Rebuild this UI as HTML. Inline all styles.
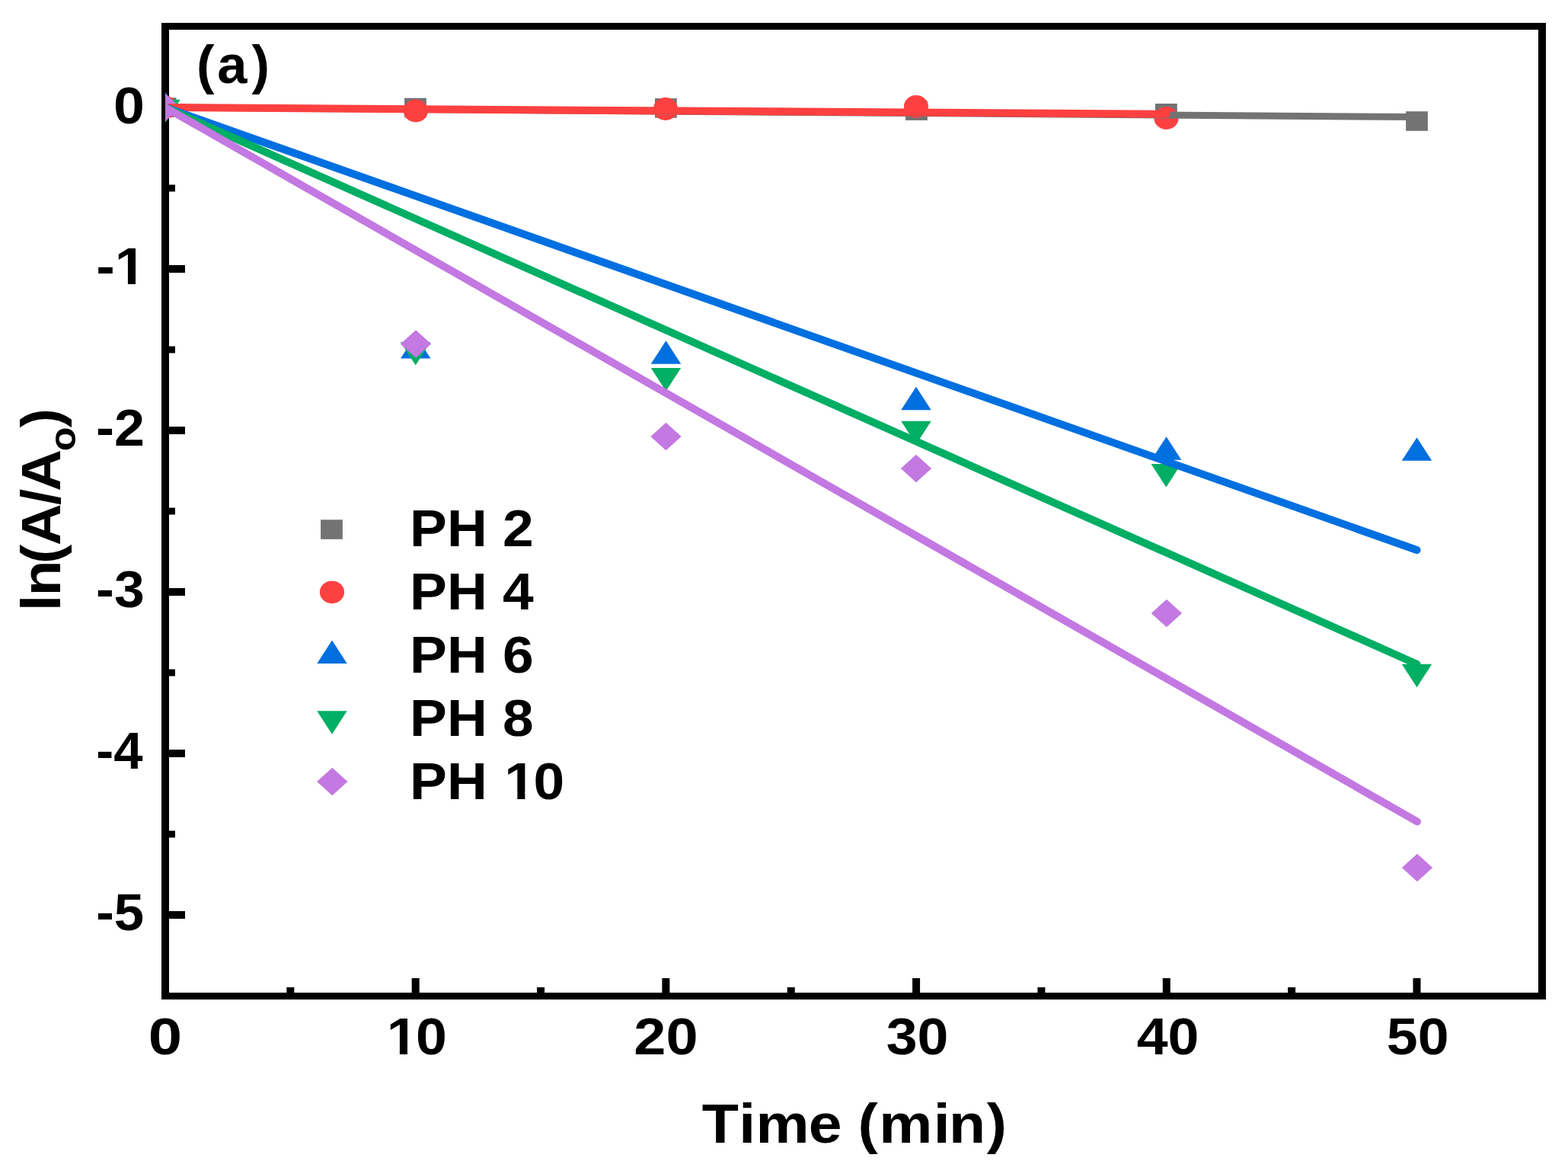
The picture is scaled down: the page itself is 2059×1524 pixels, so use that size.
<!DOCTYPE html>
<html><head><meta charset="utf-8"><title>ln(A/Ao) vs Time</title>
<style>
html,body{margin:0;padding:0;background:#fff;}
body{width:2059px;height:1524px;overflow:hidden;}
svg{display:block;}
</style></head><body>
<svg width="2059" height="1524" viewBox="0 0 2059 1524">
<defs><clipPath id="pc"><rect x="217" y="34.5" width="1808" height="1273"/></clipPath></defs>
<rect x="0" y="0" width="2059" height="1524" fill="#fff"/>

<g fill="#000">
<rect x="212" y="30" width="10" height="1282"/>
<rect x="2020" y="30" width="10" height="1282"/>
<rect x="212" y="30" width="1818" height="9"/>
<rect x="212" y="1303" width="1818" height="9"/>
<rect x="212.00" y="1284" width="10" height="20"/>
<rect x="376.35" y="1296" width="10" height="8"/>
<rect x="540.70" y="1284" width="10" height="20"/>
<rect x="705.05" y="1296" width="10" height="8"/>
<rect x="869.40" y="1284" width="10" height="20"/>
<rect x="1033.75" y="1296" width="10" height="8"/>
<rect x="1198.10" y="1284" width="10" height="20"/>
<rect x="1362.45" y="1296" width="10" height="8"/>
<rect x="1526.80" y="1284" width="10" height="20"/>
<rect x="1691.15" y="1296" width="10" height="8"/>
<rect x="1855.50" y="1284" width="10" height="20"/>
<rect x="221" y="136.00" width="22" height="10"/>
<rect x="221" y="242.50" width="9" height="9"/>
<rect x="221" y="348.00" width="22" height="10"/>
<rect x="221" y="454.50" width="9" height="9"/>
<rect x="221" y="560.00" width="22" height="10"/>
<rect x="221" y="666.50" width="9" height="9"/>
<rect x="221" y="772.00" width="22" height="10"/>
<rect x="221" y="878.50" width="9" height="9"/>
<rect x="221" y="984.00" width="22" height="10"/>
<rect x="221" y="1090.50" width="9" height="9"/>
<rect x="221" y="1196.00" width="22" height="10"/>
</g>
<g clip-path="url(#pc)">
<rect x="202.60" y="128.20" width="28.8" height="25.6" fill="#737373"/>
<rect x="531.10" y="128.70" width="28.8" height="25.6" fill="#737373"/>
<rect x="860.00" y="129.10" width="28.8" height="25.6" fill="#737373"/>
<rect x="1189.10" y="132.30" width="28.8" height="25.6" fill="#737373"/>
<rect x="1517.00" y="136.00" width="28.8" height="25.6" fill="#737373"/>
<rect x="1846.10" y="146.20" width="28.8" height="25.6" fill="#737373"/>
<ellipse cx="217.00" cy="141.00" rx="16.1" ry="14.9" fill="#FF4040"/>
<ellipse cx="545.90" cy="145.50" rx="16.1" ry="14.9" fill="#FF4040"/>
<ellipse cx="873.90" cy="143.00" rx="16.1" ry="14.9" fill="#FF4040"/>
<ellipse cx="1203.00" cy="140.00" rx="16.1" ry="14.9" fill="#FF4040"/>
<ellipse cx="1531.50" cy="155.00" rx="16.1" ry="14.9" fill="#FF4040"/>
<polygon points="217.00,120.67 236.75,151.17 197.25,151.17" fill="#006FE0"/>
<polygon points="545.70,440.07 565.45,470.57 525.95,470.57" fill="#006FE0"/>
<polygon points="874.50,447.37 894.25,477.87 854.75,477.87" fill="#006FE0"/>
<polygon points="1203.00,507.67 1222.75,538.17 1183.25,538.17" fill="#006FE0"/>
<polygon points="1531.60,573.17 1551.35,603.67 1511.85,603.67" fill="#006FE0"/>
<polygon points="1860.50,574.17 1880.25,604.67 1840.75,604.67" fill="#006FE0"/>
<polygon points="197.25,130.83 236.75,130.83 217.00,161.33" fill="#00AE64"/>
<polygon points="525.95,448.93 565.45,448.93 545.70,479.43" fill="#00AE64"/>
<polygon points="854.75,482.93 894.25,482.93 874.50,513.43" fill="#00AE64"/>
<polygon points="1183.25,552.83 1222.75,552.83 1203.00,583.33" fill="#00AE64"/>
<polygon points="1511.55,609.03 1551.05,609.03 1531.30,639.53" fill="#00AE64"/>
<polygon points="1840.75,871.63 1880.25,871.63 1860.50,902.13" fill="#00AE64"/>
<polygon points="217.00,122.75 237.15,141.00 217.00,159.25 196.85,141.00" fill="#C378E2"/>
<polygon points="546.00,433.25 566.15,451.50 546.00,469.75 525.85,451.50" fill="#C378E2"/>
<polygon points="874.50,554.65 894.65,572.90 874.50,591.15 854.35,572.90" fill="#C378E2"/>
<polygon points="1203.00,596.75 1223.15,615.00 1203.00,633.25 1182.85,615.00" fill="#C378E2"/>
<polygon points="1531.90,786.75 1552.05,805.00 1531.90,823.25 1511.75,805.00" fill="#C378E2"/>
<polygon points="1861.00,1120.65 1881.15,1138.90 1861.00,1157.15 1840.85,1138.90" fill="#C378E2"/>
<line x1="217" y1="141" x2="1860.5" y2="153.6" stroke="#737373" stroke-width="9" stroke-linecap="round"/>
<line x1="217" y1="141" x2="1531.5" y2="149.8" stroke="#FF4040" stroke-width="10" stroke-linecap="round"/>
<line x1="217" y1="141" x2="1860.5" y2="722" stroke="#006FE0" stroke-width="10" stroke-linecap="round"/>
<line x1="217" y1="141" x2="1860.5" y2="871.7" stroke="#00AE64" stroke-width="10" stroke-linecap="round"/>
<line x1="217" y1="141" x2="1861" y2="1078.5" stroke="#C378E2" stroke-width="10" stroke-linecap="round"/>
</g>
<g style="font-family:'Liberation Sans',Arial,sans-serif;font-weight:bold" fill="#000">
<text transform="translate(149.09,161.50) scale(1.0775,1)" font-size="68.3">0</text>
<text transform="translate(0,373.00) scale(1.0770,1)" x="117.21 139.96" font-size="68.3" clip-path="url(#fy1)">-1</text>
<text transform="translate(126.09,584.50) scale(1.0519,1)" font-size="68.3">-2</text>
<text transform="translate(126.11,796.50) scale(1.0469,1)" font-size="68.3">-3</text>
<text transform="translate(126.21,1008.50) scale(1.0088,1)" font-size="68.3">-4</text>
<text transform="translate(126.14,1220.50) scale(1.0363,1)" font-size="68.3">-5</text>
<text transform="translate(194.75,1384.30) scale(1.1668,1)" font-size="68.3">0</text>
<text transform="translate(0,1384.30) scale(1.0770,1)" x="471.44 506.92" font-size="68.3" clip-path="url(#fx10)">10</text>
<text transform="translate(832.37,1384.30) scale(1.1102,1)" font-size="68.3">20</text>
<text transform="translate(1163.65,1384.30) scale(1.0770,1)" font-size="68.3">30</text>
<text transform="translate(1492.64,1384.30) scale(1.0770,1)" font-size="68.3">40</text>
<text transform="translate(1820.77,1384.30) scale(1.0770,1)" font-size="68.3">50</text>
<text transform="translate(538.10,716.80) scale(1.0780,1)" font-size="67.9">PH 2</text>
<text transform="translate(538.10,799.80) scale(1.0780,1)" font-size="67.9">PH 4</text>
<text transform="translate(538.10,882.60) scale(1.0780,1)" font-size="67.9">PH 6</text>
<text transform="translate(538.10,965.70) scale(1.0780,1)" font-size="67.9">PH 8</text>
<text transform="translate(0,1048.70) scale(1.0780,1)" x="499.17 544.46 593.49 614.35 649.86" font-size="67.9" clip-path="url(#fleg)">PH 10</text>
<text transform="translate(0,109.00) scale(1.0000,1)" x="257.92 285.21 330.52" font-size="70.6">(a)</text>
<text transform="translate(0,1499.90) scale(1.0800,1)" x="853.57 898.41 918.93 982.99 1023.59 1042.96 1068.79 1134.85 1153.67 1199.86" font-size="73">Time (min)</text>
</g>
<rect x="421.10" y="682.20" width="28.8" height="25.6" fill="#737373"/>
<ellipse cx="436.00" cy="777.30" rx="16.1" ry="14.9" fill="#FF4040"/>
<polygon points="436.00,840.57 455.75,871.07 416.25,871.07" fill="#006FE0"/>
<polygon points="416.25,933.33 455.75,933.33 436.00,963.83" fill="#00AE64"/>
<polygon points="436.30,1007.75 456.45,1026.00 436.30,1044.25 416.15,1026.00" fill="#C378E2"/>
<text transform="translate(78.7,0) rotate(-90) scale(1.06,1)" style="font-family:'Liberation Sans',Arial,sans-serif;font-weight:bold" font-size="72.0" fill="#000" x="-756.57 -737.93 -698.04 -675.80 -625.38 -608.54">ln(A/A<tspan font-size="49.0" x="-558.83" dy="20.6">o</tspan><tspan x="-529.43" dy="-20.6">)</tspan></text>
<defs><clipPath id="fy1" clipPathUnits="userSpaceOnUse"><path clip-rule="evenodd" d="M-2000,-400H4000V400H-2000ZM142.26,-8.17H155.90V6H142.26ZM165.27,-8.17H178.05V6H165.27Z"/></clipPath><clipPath id="fx10" clipPathUnits="userSpaceOnUse"><path clip-rule="evenodd" d="M-2000,-400H4000V400H-2000ZM473.74,-8.17H487.38V6H473.74ZM496.75,-8.17H509.52V6H496.75Z"/></clipPath><clipPath id="fleg" clipPathUnits="userSpaceOnUse"><path clip-rule="evenodd" d="M-2000,-400H4000V400H-2000ZM616.63,-8.13H630.20V6H616.63ZM639.52,-8.13H652.23V6H639.52Z"/></clipPath></defs>
</svg>
</body></html>
